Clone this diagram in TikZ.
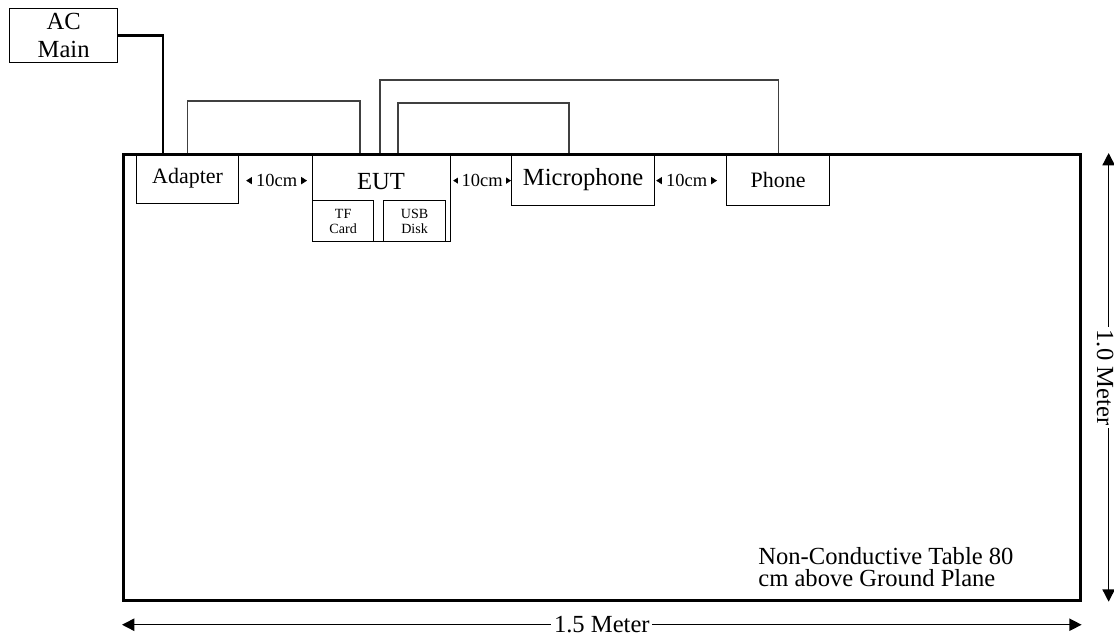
\documentclass[tikz,border=0pt]{standalone}
\usepackage{fontspec}
\setmainfont{Liberation Serif}
\usetikzlibrary{arrows.meta,calc}

\begin{document}
\begin{tikzpicture}[x=0.02cm, y=-0.02cm]
    % Styles
    \tikzstyle{box} = [rectangle, draw, line width=0.7pt, inner sep=0pt, align=center, anchor=north west]
    \tikzstyle{cable} = [line width=0.6pt, draw=black!75]
    \tikzstyle{power} = [line width=1.6pt]
    \tikzstyle{gap} = [{Triangle[length=4pt,width=5pt]}-{Triangle[length=4pt,width=5pt]}, line width=0.4pt]
    \tikzstyle{dim} = [{Triangle[length=7pt,width=7pt]}-{Triangle[length=7pt,width=7pt]}, line width=0.8pt]
    \tikzstyle{lbl} = [fill=white, inner xsep=1.5pt, inner ysep=1pt]
    \tikzstyle{gaplbl} = [fill=white, inner xsep=2.2pt, inner ysep=1pt, font=\fontsize{10.5}{12}\selectfont]

    \useasboundingbox (0,0) rectangle (1114,637);

    % Table and power
    \node[box, line width=1.6pt, minimum width=19.14cm, minimum height=8.92cm] (table) at (122,153) {};
    \node[box, minimum width=2.16cm, minimum height=1.08cm, font=\fontsize{14}{16}\selectfont] (acmain) at (9,8) {AC\\Main};

    % Nodes
    \node[box, minimum width=2.04cm, minimum height=1.0cm, font=\fontsize{12.5}{14}\selectfont] (adapter) at (136,153) {Adapter};
    \node[box, minimum width=2.76cm, minimum height=1.76cm] (eut) at (312,153) {};
    \node[font=\fontsize{14}{16}\selectfont] (euttext) at (381,182) {EUT};
    \node[box, minimum width=1.22cm, minimum height=0.82cm, font=\fontsize{8}{8.5}\selectfont] (tfcard) at (312,200) {TF\\Card};
    \node[box, minimum width=1.24cm, minimum height=0.82cm, font=\fontsize{8}{8.5}\selectfont] (usbdisk) at (383,200) {USB\\Disk};
    \node[box, minimum width=2.86cm, minimum height=1.04cm, font=\fontsize{14}{16}\selectfont] (mic) at (511,153) {Microphone};
    \node[box, minimum width=2.06cm, minimum height=1.04cm, font=\fontsize{12.5}{14}\selectfont] (phone) at (726,153) {Phone};
    \node[anchor=north west, align=left, inner sep=0pt, font=\fontsize{14}{12.5}\selectfont] (note) at (758,547)
        {Non-Conductive Table 80\\cm above Ground Plane};

    % Cables
    \draw[power] (acmain.east) -| ($(adapter.north west)+(27,0)$);
    \draw[cable] (adapter.north) -- ++(0,-52) -| ($(eut.north west)+(48,0)$);
    \draw[cable] ($(eut.north west)+(68,0)$) -- ++(0,-73) -| (phone.north);
    \draw[cable] ($(eut.north west)+(86,0)$) -- ++(0,-50) -| ($(mic.north west)+(58,0)$);

    % Spacing
    \draw[gap] ($(adapter.east)+(7,2)$) -- ($(adapter.east -| eut.west)+(-5,2)$)
        node[midway, gaplbl] (gapa) {10cm};
    \draw[gap] ($(mic.west -| eut.east)+(2,1)$) -- ($(mic.west)+(0,1)$)
        node[midway, gaplbl] (gapb) {10cm};
    \draw[gap] ($(mic.east)+(1,1)$) -- ($(phone.west)+(-9,1)$)
        node[midway, gaplbl] (gapc) {10cm};

    % Dimensions
    \draw[dim] ($(table.south west)+(0,23)$) -- ($(table.south east)+(0,23)$)
        node[midway, lbl, font=\fontsize{14}{16}\selectfont] (widthlbl) {1.5 Meter};
    \draw[dim] ($(table.north east)+(27,0)$) -- ($(table.south east)+(27,0)$)
        node[midway, lbl, xshift=-2pt, rotate=-90, font=\fontsize{14}{16}\selectfont] (heightlbl) {1.0 Meter};

\end{tikzpicture}
\end{document}
